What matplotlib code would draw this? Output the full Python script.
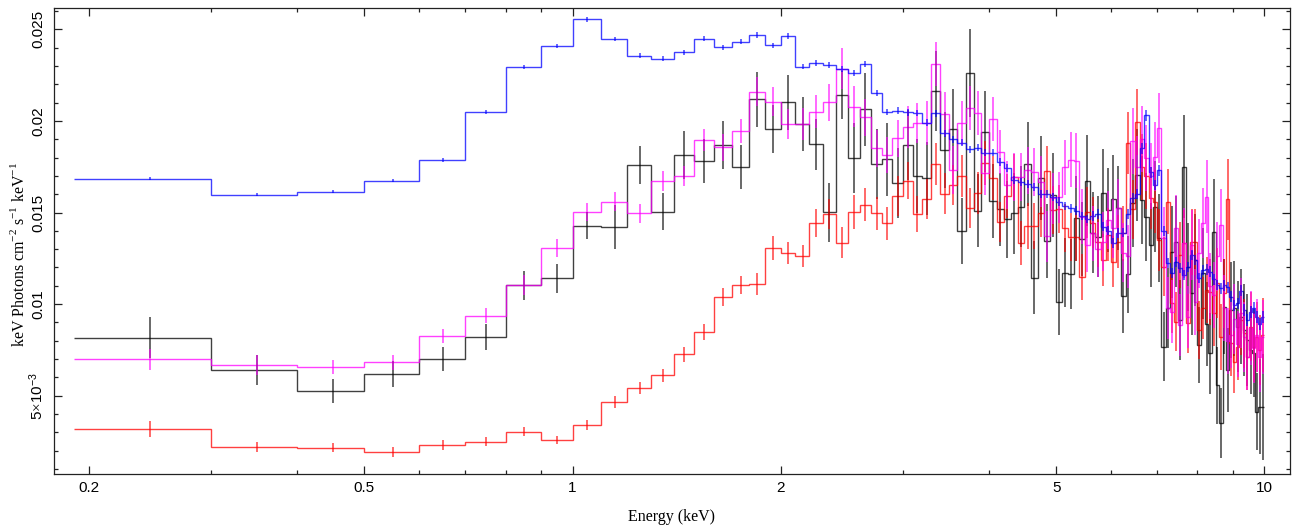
import numpy as np
import matplotlib
matplotlib.use("Agg")
import matplotlib.pyplot as plt
from matplotlib.ticker import FixedLocator, NullFormatter

plt.rcParams["mathtext.fontset"] = "custom"
plt.rcParams["mathtext.rm"] = "Liberation Serif"
plt.rcParams["mathtext.sf"] = "Liberation Sans"

# ---------------------------------------------------------------- data
# Energy binning (keV): one wide soft bin, then 0.1 keV bins to 10 keV
bin_edges = np.array([0.19] + [round(0.3 + 0.1 * k, 1) for k in range(98)])

# Unfolded spectra, E*F(E) in units of 1e-3 keV Photons cm^-2 s^-1 keV^-1
black_flux = [
    8.17, 6.40, 5.26, 6.17, 6.99, 8.22, 11.03, 11.41, 14.28, 14.23,
    17.60, 15.04, 18.14, 17.80, 18.70, 17.47, 21.18, 19.56, 21.01, 19.83,
    18.72, 15.01, 21.42, 17.96, 20.63, 17.65, 17.90, 16.60, 18.67, 17.00,
    16.87, 21.63, 18.41, 19.54, 14.01, 22.63, 15.10, 19.41, 15.63, 15.18,
    14.63, 14.96, 15.32, 17.65, 11.44, 16.87, 13.45, 15.96, 10.13, 11.72,
    11.64, 14.68, 13.55, 16.74, 13.90, 13.68, 16.08, 15.14, 15.72, 15.23,
    10.44, 11.64, 15.50, 17.05, 15.68, 14.77, 13.23, 15.32, 13.59, 7.68,
    9.79, 12.86, 13.41, 9.13, 17.50, 12.04, 10.59, 12.41, 7.77, 11.68,
    8.90, 7.31, 13.95, 5.58, 3.53, 9.86, 6.40, 9.68, 9.77, 8.77,
    9.31, 8.59, 8.04, 7.49, 7.31, 4.13, 4.40, 4.40,
]
black_err = [
    1.13, 0.82, 0.64, 0.70, 0.66, 0.70, 0.80, 0.80, 0.75, 1.20,
    1.05, 1.00, 1.30, 1.20, 1.30, 1.20, 1.50, 1.30, 1.50, 1.50,
    1.40, 1.60, 1.30, 1.90, 2.00, 1.90, 2.00, 1.90, 1.90, 2.00,
    2.00, 2.20, 2.10, 2.20, 1.80, 2.40, 2.00, 2.20, 2.00, 2.00,
    2.10, 2.20, 2.20, 2.30, 2.00, 2.30, 2.00, 2.30, 1.80, 1.90,
    1.90, 2.30, 2.00, 2.50, 2.20, 2.20, 2.40, 2.30, 2.40, 2.30,
    2.00, 2.10, 2.40, 2.50, 2.40, 2.40, 2.30, 2.50, 2.40, 1.90,
    2.20, 2.50, 2.50, 2.20, 2.80, 2.40, 2.30, 2.50, 2.10, 2.50,
    2.30, 2.20, 2.90, 2.10, 1.90, 2.60, 2.30, 2.60, 2.60, 2.50,
    2.60, 2.50, 2.50, 2.40, 2.40, 2.10, 2.60, 2.90,
]

red_flux = [
    3.18, 2.22, 2.16, 1.93, 2.31, 2.49, 3.03, 2.58, 3.40, 4.64,
    5.42, 6.11, 7.26, 8.49, 10.40, 11.06, 11.10, 13.08, 12.80, 12.63,
    14.41, 14.92, 13.35, 15.04, 15.41, 14.96, 14.41, 15.90, 16.74, 14.92,
    15.72, 17.65, 16.03, 16.50, 17.00, 15.26, 16.07, 17.72, 16.87, 14.47,
    15.90, 16.92, 13.32, 14.28, 14.26, 14.96, 17.28, 15.14, 15.18, 14.14,
    13.68, 13.68, 11.46, 15.01, 14.45, 13.41, 12.41, 13.78, 12.32, 13.41,
    13.87, 18.81, 15.18, 19.96, 17.50, 17.00, 15.80, 15.60, 13.50, 12.04,
    15.60, 10.04, 9.04, 12.68, 13.32, 8.95, 13.41, 13.40, 8.59, 9.77,
    10.77, 10.68, 9.50, 11.14, 8.22, 10.59, 15.72, 7.86, 6.86, 7.67,
    9.13, 8.40, 7.13, 8.77, 7.67, 8.22, 7.50, 8.31,
]
red_err = [
    0.43, 0.27, 0.25, 0.27, 0.25, 0.25, 0.25, 0.22, 0.25, 0.33,
    0.35, 0.35, 0.40, 0.45, 0.50, 0.50, 0.60, 0.65, 0.60, 0.60,
    0.76, 0.80, 0.85, 0.94, 0.90, 0.90, 0.90, 1.10, 1.00, 1.00,
    1.10, 1.15, 1.10, 1.10, 1.15, 1.10, 1.15, 1.20, 1.20, 1.10,
    1.20, 1.25, 1.20, 1.25, 1.25, 1.30, 1.35, 1.30, 1.30, 1.30,
    1.30, 1.30, 1.25, 1.40, 1.40, 1.40, 1.40, 1.45, 1.40, 1.45,
    1.50, 1.70, 1.60, 1.80, 1.80, 1.80, 1.70, 1.70, 1.70, 1.60,
    1.80, 1.60, 1.60, 1.80, 1.80, 1.60, 1.80, 1.80, 1.60, 1.70,
    1.80, 1.80, 1.80, 1.90, 1.80, 1.90, 2.20, 1.80, 1.70, 1.80,
    1.90, 1.90, 1.80, 1.90, 1.90, 1.90, 1.90, 2.00,
]

magenta_flux = [
    6.99, 6.69, 6.58, 6.82, 8.26, 9.37, 11.06, 13.05, 15.04, 15.59,
    14.96, 16.72, 17.01, 18.96, 18.56, 19.45, 21.60, 21.05, 19.83, 19.83,
    20.50, 21.01, 22.85, 20.78, 20.20, 18.51, 18.14, 19.05, 19.68, 19.87,
    19.87, 23.10, 20.36, 17.32, 19.87, 20.72, 20.45, 17.17, 20.12, 18.32,
    16.50, 16.92, 16.95, 17.30, 17.20, 16.68, 13.70, 15.78, 15.83, 17.47,
    17.87, 17.83, 14.77, 13.23, 13.87, 12.99, 13.41, 14.59, 14.14, 15.23,
    12.80, 12.60, 18.90, 17.50, 19.00, 18.00, 17.00, 18.05, 19.60, 13.60,
    9.77, 9.59, 14.14, 8.86, 13.35, 9.31, 13.23, 10.13, 12.77, 14.41,
    15.86, 11.00, 10.50, 12.60, 14.30, 9.80, 8.00, 8.30, 9.20, 7.80,
    9.50, 8.20, 7.10, 8.70, 7.60, 8.30, 7.10, 8.20,
]
magenta_err = [
    0.57, 0.54, 0.37, 0.40, 0.40, 0.40, 0.55, 0.50, 0.50, 0.53,
    0.52, 0.57, 0.55, 0.62, 0.75, 0.65, 0.80, 0.80, 0.80, 0.90,
    0.90, 1.00, 1.10, 1.10, 1.00, 1.00, 1.00, 1.00, 1.15, 1.10,
    1.20, 1.20, 1.20, 1.30, 1.20, 1.20, 1.20, 1.20, 1.20, 1.20,
    1.30, 1.30, 1.30, 1.30, 1.30, 1.40, 1.40, 1.40, 1.40, 1.50,
    1.50, 1.50, 1.50, 1.50, 1.50, 1.50, 1.60, 1.60, 1.60, 1.60,
    1.60, 1.70, 1.80, 1.70, 1.80, 1.80, 1.80, 1.90, 1.90, 1.70,
    1.70, 1.70, 1.80, 1.70, 1.90, 1.70, 1.90, 1.80, 1.90, 1.90,
    2.00, 1.80, 1.80, 1.90, 2.00, 1.80, 1.80, 1.80, 1.90, 1.80,
    1.90, 1.90, 1.80, 2.00, 1.90, 2.00, 1.90, 2.00,
]

blue_flux = [
    16.85, 15.96, 16.14, 16.74, 17.87, 20.50, 22.94, 24.07, 25.55, 24.47,
    23.56, 23.40, 23.75, 24.49, 24.02, 24.31, 24.69, 24.13, 24.64, 22.96,
    23.15, 23.04, 22.82, 22.63, 23.09, 21.51, 20.50, 20.56, 20.47, 20.42,
    19.90, 20.42, 19.32, 19.00, 18.81, 18.45, 18.54, 18.27, 18.27, 17.77,
    17.41, 16.78, 16.68, 16.56, 16.41, 16.00, 16.00, 15.86, 15.59, 15.37,
    15.23, 15.10, 14.81, 14.65, 14.81, 14.92, 14.23, 14.01, 13.35, 13.87,
    13.90, 14.90, 15.80, 16.00, 18.50, 20.30, 17.20, 16.50, 17.30, 14.00,
    12.24, 11.69, 12.30, 11.97, 11.59, 12.03, 12.68, 12.41, 11.43, 11.86,
    11.90, 11.77, 11.35, 11.04, 10.86, 11.04, 10.92, 10.40, 9.95, 10.04,
    10.73, 9.68, 9.13, 9.59, 9.77, 9.31, 8.91, 9.31,
]
blue_err = [
    0.10, 0.08, 0.08, 0.08, 0.09, 0.10, 0.11, 0.12, 0.13, 0.13,
    0.12, 0.12, 0.13, 0.13, 0.13, 0.14, 0.14, 0.14, 0.15, 0.15,
    0.15, 0.16, 0.16, 0.17, 0.17, 0.17, 0.17, 0.18, 0.18, 0.18,
    0.19, 0.19, 0.19, 0.19, 0.20, 0.20, 0.20, 0.20, 0.21, 0.21,
    0.21, 0.21, 0.22, 0.22, 0.22, 0.22, 0.23, 0.23, 0.23, 0.23,
    0.24, 0.24, 0.24, 0.24, 0.25, 0.25, 0.25, 0.25, 0.26, 0.26,
    0.26, 0.27, 0.28, 0.28, 0.30, 0.32, 0.29, 0.28, 0.29, 0.27,
    0.27, 0.27, 0.27, 0.27, 0.28, 0.28, 0.28, 0.28, 0.28, 0.29,
    0.29, 0.29, 0.29, 0.29, 0.30, 0.30, 0.30, 0.30, 0.30, 0.31,
    0.31, 0.31, 0.31, 0.32, 0.32, 0.32, 0.33, 0.33,
]

UNIT = 1e-3

x_ticks = [0.2, 0.5, 1, 2, 5, 10]
x_ticklabels = ["0.2", "0.5", "1", "2", "5", "10"]
x_minor = [0.3, 0.4, 0.6, 0.7, 0.8, 0.9, 3, 4, 6, 7, 8, 9]
y_ticks = [0.005, 0.01, 0.015, 0.02, 0.025]
y_ticklabels = [r"$\mathsf{5}{\times}\mathsf{10^{-3}}$", "0.01", "0.015", "0.02", "0.025"]

series = [
    (black_flux, black_err, "#000000"),
    (red_flux, red_err, "#ff0000"),
    (magenta_flux, magenta_err, "#ff00ff"),
    (blue_flux, blue_err, "#0000ff"),
]

# ---------------------------------------------------------------- figure
fig = plt.figure(figsize=(13.04, 5.27), dpi=100)
ax = fig.add_axes([54 / 1304, 53 / 527, 1236 / 1304, 466 / 527])

centers = 0.5 * (bin_edges[:-1] + bin_edges[1:])
for flux, err, color in series:
    f = np.asarray(flux) * UNIT
    e = np.asarray(err) * UNIT
    ax.stairs(f, bin_edges, baseline=None, color=color, lw=1.0, alpha=0.75)
    ax.vlines(centers, f - e, f + e, color=color, lw=1.1, alpha=0.75)

ax.set_xscale("log")
ax.set_xlim(0.178, 10.89)
ax.set_ylim(0.00073, 0.02616)

ax.xaxis.set_major_locator(FixedLocator(x_ticks))
ax.xaxis.set_minor_locator(FixedLocator(x_minor))
ax.set_xticklabels(x_ticklabels)
ax.xaxis.set_minor_formatter(NullFormatter())
ax.yaxis.set_major_locator(FixedLocator(y_ticks))
ax.yaxis.set_minor_locator(FixedLocator([k * 0.001 for k in range(1, 27)]))
ax.set_yticklabels(y_ticklabels)

ax.tick_params(which="both", direction="in", top=True, right=True,
               width=0.9, color="#222222")
ax.tick_params(which="major", length=6)
ax.tick_params(which="minor", length=3.2)
ax.tick_params(axis="x", which="major", pad=5)
ax.tick_params(axis="y", which="major", pad=6)

for lbl in ax.get_xticklabels():
    lbl.set_fontfamily("Liberation Sans")
    lbl.set_fontsize(11)
for lbl in ax.get_yticklabels():
    lbl.set_fontfamily("Liberation Sans")
    lbl.set_fontsize(11)
    lbl.set_rotation(90)
    lbl.set_va("center")

for sp in ax.spines.values():
    sp.set_linewidth(0.9)
    sp.set_color("#222222")

fig.text(672 / 1304, 1 - 517 / 527, "Energy (keV)", ha="center", va="center",
         fontfamily="Liberation Serif", fontsize=11.5)
fig.text(19 / 1304, 1 - 254 / 527,
         r"keV Photons cm$^{-2}$ s$^{-1}$ keV$^{-1}$",
         rotation=90, ha="center", va="center",
         fontfamily="Liberation Serif", fontsize=11.5)

fig.savefig("out.png", dpi=100)
